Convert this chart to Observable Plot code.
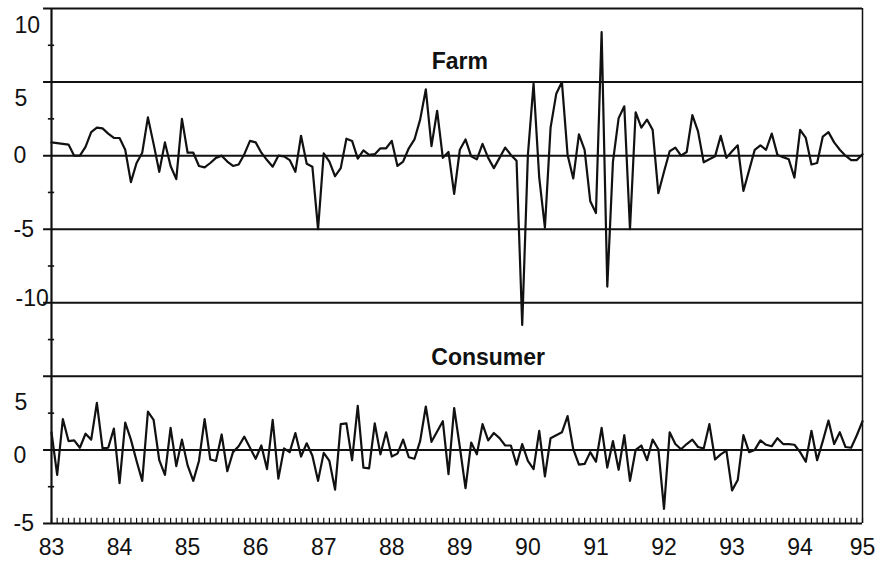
<!DOCTYPE html>
<html>
<head>
<meta charset="utf-8">
<script src="https://cdn.jsdelivr.net/npm/d3@7"></script>
<script src="https://cdn.jsdelivr.net/npm/@observablehq/plot@0.6"></script>
<style>
  html, body { margin: 0; padding: 0; background: #fff; }
</style>
</head>
<body>
<div id="chart"></div>
<script>
// Monthly percent changes, Jan 1983 - Dec 1994 (144 months)
const farm = [
  0.9, 0.85, 0.8, 0.75, 0.0, 0.0, 0.6, 1.6, 1.9, 1.85,
  1.5, 1.2, 1.2, 0.4, -1.8, -0.5, 0.2, 2.6, 0.8, -1.1,
  0.9, -0.7, -1.6, 2.5, 0.2, 0.2, -0.7, -0.8, -0.5, -0.15,
  0.0, -0.4, -0.7, -0.6, 0.1, 1.0, 0.9, 0.2, -0.3, -0.75,
  0.0, -0.05, -0.3, -1.1, 1.35, -0.55, -0.75, -5.0, 0.15, -0.4,
  -1.4, -0.85, 1.15, 1.0, -0.2, 0.35, 0.05, 0.1, 0.5, 0.5,
  1.0, -0.7, -0.4, 0.5, 1.1, 2.45, 4.5, 0.65, 3.05, -0.15,
  0.25, -2.6, 0.4, 1.1, -0.05, -0.25, 0.8, -0.15, -0.85, -0.15,
  0.55, 0.05, -0.35, -11.5, 0.05, 4.9, -1.5, -4.9, 1.9, 4.2,
  5.0, 0.05, -1.55, 1.45, 0.4, -3.1, -3.9, 8.4, -8.9, -0.4,
  2.55, 3.35, -5.0, 2.95, 1.9, 2.45, 1.75, -2.55, -1.1, 0.3,
  0.55, 0.0, 0.25, 2.75, 1.65, -0.45, -0.25, -0.05, 1.35, -0.15,
  0.3, 0.7, -2.4, -1.0, 0.4, 0.7, 0.4, 1.5, 0.05, -0.1,
  -0.25, -1.5, 1.75, 1.2, -0.6, -0.5, 1.3, 1.6, 0.9, 0.4,
  0.0, -0.3, -0.3, 0.1
];
const consumer = [
  1.2, -1.7, 2.1, 0.6, 0.65, 0.15, 1.1, 0.7, 3.2, 0.1,
  0.15, 1.45, -2.25, 1.85, 0.7, -0.75, -2.1, 2.6, 2.05, -0.7,
  -1.7, 1.5, -1.1, 0.7, -1.05, -2.1, -0.75, 2.1, -0.65, -0.75,
  1.05, -1.45, -0.15, 0.25, 0.9, 0.15, -0.6, 0.3, -1.3, 2.05,
  -1.95, 0.1, -0.15, 1.15, -0.45, 0.45, -0.4, -2.1, -0.2, -0.75,
  -2.7, 1.75, 1.8, -0.7, 3.0, -1.2, -1.25, 1.8, -0.3, 1.2,
  -0.45, -0.25, 0.7, -0.5, -0.6, 0.6, 2.95, 0.55, 1.25, 1.95,
  -1.65, 2.85, 0.2, -2.6, 0.5, -0.3, 1.75, 0.65, 1.15, 0.8,
  0.3, 0.3, -1.0, 0.4, -0.75, -1.3, 1.3, -1.8, 0.8, 1.0,
  1.2, 2.3, 0.05, -1.0, -0.95, -0.15, -0.8, 1.5, -1.2, 0.6,
  -1.35, 1.0, -2.1, 0.0, 0.3, -0.7, 0.7, 0.05, -4.0, 1.2,
  0.4, 0.05, 0.4, 0.7, 0.2, 0.1, 1.75, -0.65, -0.3, -0.05,
  -2.75, -2.05, 1.0, -0.15, 0.0, 0.65, 0.35, 0.25, 0.8, 0.4,
  0.4, 0.35, -0.15, -0.8, 1.3, -0.7, 0.6, 2.0, 0.4, 1.2,
  0.2, 0.15, 1.0, 1.95
];

const yearLabels = ["83","84","85","86","87","88","89","90","91","92","93","94","95"];
const yearTickMonths = [0, 12, 24, 36, 48, 60, 72, 84, 96, 108, 120, 132, 143];

// Both panels share one vertical scale; the consumer panel sits 20 units lower.
const consumerBase = -20;
const gridValues = [10, 5, 0, -5, -10, -15, -20, -25];
const minorTickValues = [7.5, 2.5, -2.5, -7.5, -12.5, -17.5, -22.5];
const farmTickValues = [10, 5, 0, -5, -10];
const farmTickLabels = ["10", "5", "0", "-5", "-10"];
const consumerTickValues = [5, 0, -5];
const consumerTickLabels = ["5", "0", "-5"];
const panelTitles = ["Farm", "Consumer"];

const months = d3.range(farm.length);
const farmData = months.map(i => ({i, v: farm[i]}));
const consumerData = months.map(i => ({i, v: consumer[i] + consumerBase}));

const yLabels = [
  ...farmTickValues.map((v, k) => ({v, label: farmTickLabels[k]})),
  ...consumerTickValues.map((v, k) => ({v: v + consumerBase, label: consumerTickLabels[k]}))
];

const ink = "#111";

const chart = Plot.plot({
  width: 877,
  height: 562,
  marginLeft: 51,
  marginRight: 15,
  marginTop: 8,
  marginBottom: 39,
  x: {domain: [0, 143], label: null},
  y: {domain: [-25, 10], axis: null, label: null},
  style: {fontFamily: "'Liberation Sans', Arial, Helvetica, sans-serif", fontSize: "23px", background: "white", color: ink},
  marks: [
    // horizontal reference lines (extend a little left of the axis)
    Plot.ruleY(gridValues, {x1: -1.4, x2: 143, stroke: ink, strokeWidth: 2}),
    // left axis and right border
    Plot.ruleX([0], {stroke: ink, strokeWidth: 2.2}),
    Plot.ruleX([143], {stroke: ink, strokeWidth: 1.5}),
    // minor y ticks
    Plot.ruleY(minorTickValues, {x1: -0.55, x2: 0.55, stroke: ink, strokeWidth: 1.6}),
    // monthly x ticks
    Plot.ruleX(months, {y1: -25, y2: -24.65, stroke: ink, strokeWidth: 1.2}),
    // series
    Plot.line(farmData, {x: "i", y: "v", stroke: ink, strokeWidth: 2.2}),
    Plot.line(consumerData, {x: "i", y: "v", stroke: ink, strokeWidth: 2.2}),
    // y labels (positive labels sit a little below their lines, as in the original)
    Plot.text(yLabels.filter(d => d.v > 0), {y: "v", text: "label", frameAnchor: "left", textAnchor: "start", dx: -37, dy: 17, fill: ink}),
    Plot.text(yLabels.filter(d => d.v === consumerBase + 5), {y: "v", text: "label", frameAnchor: "left", textAnchor: "start", dx: -37, dy: 26, fill: ink}),
    Plot.text(yLabels.filter(d => d.v <= 0 && d.v !== consumerBase + 5 && d.v !== consumerBase && d.v !== -10), {y: "v", text: "label", frameAnchor: "left", textAnchor: "start", dx: -38, fill: ink}),
    Plot.text(yLabels.filter(d => d.v === -10), {y: "v", text: "label", frameAnchor: "left", textAnchor: "start", dx: -36, dy: -4, fill: ink}),
    Plot.text(yLabels.filter(d => d.v === consumerBase), {y: "v", text: "label", frameAnchor: "left", textAnchor: "start", dx: -38, dy: 6, fill: ink}),
    // x axis labels
    Plot.axisX(yearTickMonths, {tickSize: 0, tickPadding: 15, label: null, tickFormat: d => yearLabels[yearTickMonths.indexOf(d)], fill: ink}),
    // panel titles
    Plot.text([panelTitles[0]], {x: 72, y: 6.4, text: d => d, fontWeight: "bold", fontSize: 23, fill: ink}),
    Plot.text([panelTitles[1]], {x: 77, y: consumerBase + 6.25, text: d => d, fontWeight: "bold", fontSize: 23, fill: ink})
  ]
});

document.getElementById("chart").appendChild(chart);
</script>
</body>
</html>
